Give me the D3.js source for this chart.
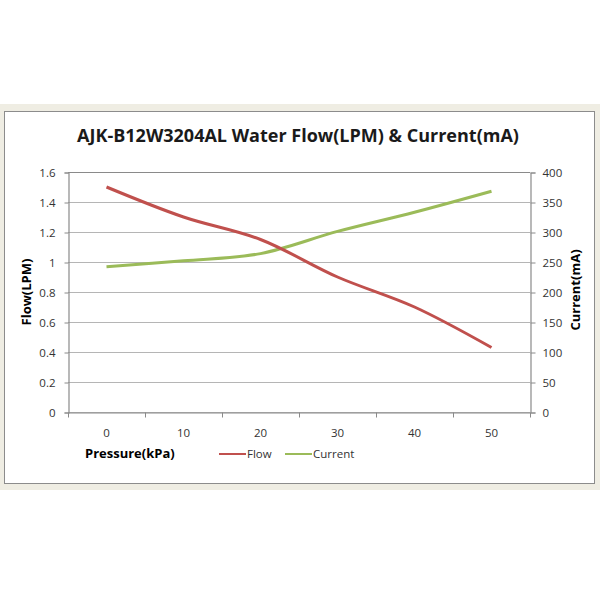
<!DOCTYPE html>
<html>
<head>
<meta charset="utf-8">
<script src="https://cdn.jsdelivr.net/npm/d3@7"></script>
<style>
  body { margin: 0; background: #fff; }
  text { font-family: "Open Sans", "DejaVu Sans", sans-serif; }
</style>
</head>
<body>
<div id="chart"></div>
<script>
// Chart data
var pressure = [0, 10, 20, 30, 40, 50];
var flow = [1.5, 1.3, 1.15, 0.9, 0.7, 0.43];
var current = [242, 252, 264, 301, 333, 368];
var flowTicks = [0, 0.2, 0.4, 0.6, 0.8, 1, 1.2, 1.4, 1.6];
var currentTicks = [0, 50, 100, 150, 200, 250, 300, 350, 400];

var svgWidth = 600;
var svgHeight = 600;

// plot area inside the chart frame
var margin = { top: 172, right: 70, bottom: 188, left: 68 };
var width = svgWidth - margin.left - margin.right;
var height = svgHeight - margin.top - margin.bottom;

var svg = d3.select("#chart")
  .append("svg")
  .attr("width", svgWidth)
  .attr("height", svgHeight);

// beige outer band and the chart frame
svg.append("rect")
  .attr("x", 0).attr("y", 104)
  .attr("width", 600).attr("height", 386)
  .attr("fill", "#efede3");
svg.append("rect")
  .attr("x", 4.5).attr("y", 111.5)
  .attr("width", 590).attr("height", 372)
  .attr("fill", "#fff")
  .attr("stroke", "#8c8c8c")
  .attr("stroke-width", 1);

var chartGroup = svg.append("g")
  .attr("transform", `translate(${margin.left}, ${margin.top})`);

// scales
var xScale = d3.scaleBand()
  .domain(pressure)
  .range([0, width]);

var yLeft = d3.scaleLinear()
  .domain([0, 1.6])
  .range([height, 0]);

var yRight = d3.scaleLinear()
  .domain([0, 400])
  .range([height, 0]);

// gridlines
chartGroup.selectAll(".grid")
  .data(flowTicks)
  .enter()
  .append("line")
  .attr("x1", 0)
  .attr("x2", width)
  .attr("y1", d => Math.round(yLeft(d)) + 0.5)
  .attr("y2", d => Math.round(yLeft(d)) + 0.5)
  .attr("stroke", (d, i) => i === flowTicks.length - 1 ? "#8a8a8a" : "#b5b5b5")
  .attr("stroke-width", 1.2);

// axes
var leftAxis = d3.axisLeft(yLeft)
  .tickValues(flowTicks)
  .tickSize(4)
  .tickPadding(9)
  .tickFormat(d3.format("~g"));

var rightAxis = d3.axisRight(yRight)
  .tickValues(currentTicks)
  .tickSize(5)
  .tickPadding(7);

var bottomAxis = d3.axisBottom(xScale)
  .tickSize(0)
  .tickPadding(16);

var gLeft = chartGroup.append("g")
  .attr("transform", "translate(0.5, 0.5)")
  .call(leftAxis);

var gRight = chartGroup.append("g")
  .attr("transform", `translate(${width + 0.5}, 0.5)`)
  .call(rightAxis);

var gBottom = chartGroup.append("g")
  .attr("transform", `translate(0, ${height + 0.5})`)
  .call(bottomAxis);

// category boundary ticks on the x axis
gBottom.selectAll(".boundary")
  .data(d3.range(pressure.length + 1))
  .enter()
  .append("line")
  .attr("x1", i => Math.round(i * xScale.bandwidth()) + 0.5)
  .attr("x2", i => Math.round(i * xScale.bandwidth()) + 0.5)
  .attr("y1", 0)
  .attr("y2", 5)
  .attr("stroke", "#8a8a8a");

[gLeft, gRight, gBottom].forEach(function(g) {
  g.select(".domain").attr("stroke", "#8a8a8a").attr("stroke-width", 1.2);
  g.selectAll(".tick line").attr("stroke", "#8a8a8a");
  g.selectAll(".tick text")
    .attr("fill", "#333")
    .style("font-size", "11.5px");
});

// lines
var flowLine = d3.line()
  .x((d, i) => xScale(pressure[i]) + xScale.bandwidth() / 2)
  .y(d => yLeft(d))
  .curve(d3.curveCatmullRom.alpha(0.5));

var currentLine = d3.line()
  .x((d, i) => xScale(pressure[i]) + xScale.bandwidth() / 2)
  .y(d => yRight(d))
  .curve(d3.curveCatmullRom.alpha(0.5));

chartGroup.append("path")
  .datum(current)
  .attr("d", currentLine)
  .attr("fill", "none")
  .attr("stroke", "#9bbb59")
  .attr("stroke-width", 3);

chartGroup.append("path")
  .datum(flow)
  .attr("d", flowLine)
  .attr("fill", "none")
  .attr("stroke", "#c0504d")
  .attr("stroke-width", 3);

// title
svg.append("text")
  .attr("x", 298)
  .attr("y", 142)
  .attr("text-anchor", "middle")
  .style("font-size", "18px")
  .style("font-weight", "bold")
  .attr("fill", "#1a1a1a")
  .text("AJK-B12W3204AL Water Flow(LPM) & Current(mA)");

// axis titles
svg.append("text")
  .attr("transform", `translate(31, ${margin.top + height / 2}) rotate(-90)`)
  .attr("text-anchor", "middle")
  .style("font-size", "13px")
  .style("font-weight", "bold")
  .attr("fill", "#000")
  .text("Flow(LPM)");

svg.append("text")
  .attr("transform", `translate(580, ${margin.top + height / 2 - 2}) rotate(-90)`)
  .attr("text-anchor", "middle")
  .style("font-size", "13px")
  .style("font-weight", "bold")
  .attr("fill", "#000")
  .text("Current(mA)");

svg.append("text")
  .attr("x", 85)
  .attr("y", 458)
  .style("font-size", "13px")
  .style("font-weight", "bold")
  .attr("fill", "#000")
  .text("Pressure(kPa)");

// legend
var legendItems = [
  { name: "Flow", color: "#c0504d", x: 219 },
  { name: "Current", color: "#9bbb59", x: 285 }
];

var legend = svg.selectAll(".legend")
  .data(legendItems)
  .enter()
  .append("g")
  .attr("transform", d => `translate(${d.x}, 454)`);

legend.append("line")
  .attr("x1", 0).attr("x2", 27)
  .attr("y1", 0).attr("y2", 0)
  .attr("stroke", d => d.color)
  .attr("stroke-width", 2);

legend.append("text")
  .attr("x", 28)
  .attr("y", 4)
  .style("font-size", "11.5px")
  .attr("fill", "#333")
  .text(d => d.name);
</script>
</body>
</html>
